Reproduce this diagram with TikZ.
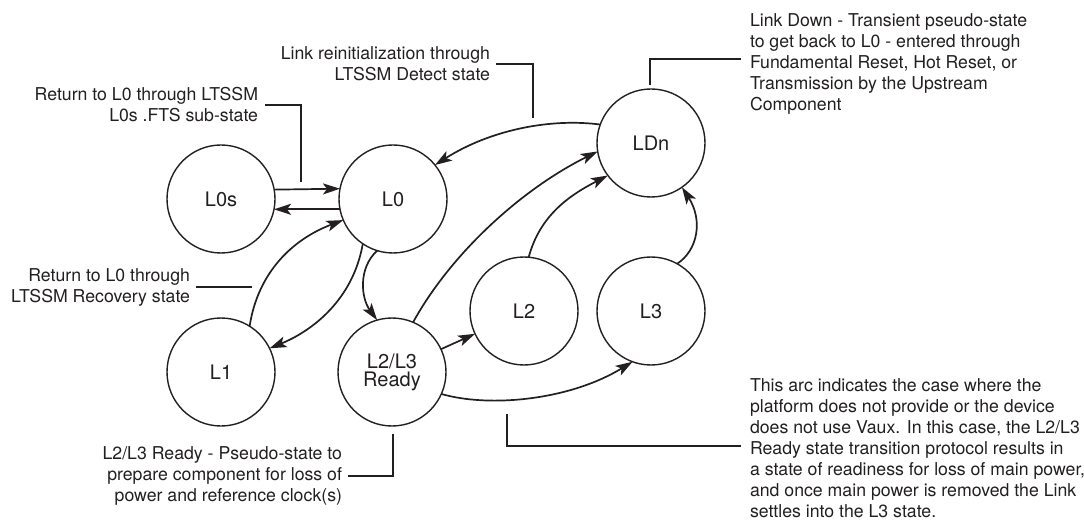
\documentclass[tikz,border=0pt]{standalone}
\usepackage{fontspec}
\setmainfont{TeX Gyre Heros}
\usetikzlibrary{arrows.meta}
\definecolor{ink}{HTML}{231F20}
\tikzset{
  x=1pt,y=-1pt,
  every node/.style={text=ink},
  statenode/.style={circle,draw=ink,line width=1.4pt,minimum size=108pt,inner sep=0pt,outer sep=0pt,align=center,font=\fontsize{20}{18}\selectfont},
  arc/.style={draw=ink,line width=1.7pt,-{Stealth[length=17pt,width=11pt,inset=4pt]}},
  leader/.style={draw=ink,line width=2pt},
  note/.style={inner sep=0pt,outer sep=0pt,font=\fontsize{17.7}{21}\selectfont},
  noter/.style={note,anchor=east,align=right},
  notel/.style={note,anchor=west,align=left}
}
\begin{document}
\begin{tikzpicture}
\useasboundingbox (0,0) rectangle (1084,521);
\node[statenode] (L0s) at (221,199) {L0s};
\node[statenode] (L0) at (393,199) {L0};
\node[statenode] (L1) at (221,372) {L1};
\node[statenode] (R) at (392,372) {L2/L3\\Ready};
\node[statenode] (L2) at (524,311) {L2};
\node[statenode] (L3) at (651,311) {L3};
\node[statenode] (LDn) at (651,143) {LDn};
% notes
\node[noter] (t0s) at (258,105) {Return to L0 through LTSSM\\L0s .FTS sub-state};
\node[noter] (tre) at (490,64) {Link reinitialization through\\LTSSM Detect state};
\node[noter] (tl1) at (190,287) {Return to L0 through\\LTSSM Recovery state};
\node[noter] (trd) at (342,476) {L2/L3 Ready - Pseudo-state to\\prepare component for loss of\\power and reference clock(s)};
\node[notel] (tdn) at (750,63.5) {Link Down - Transient pseudo-state\\to get back to L0 - entered through\\Fundamental Reset, Hot Reset, or\\Transmission by the Upstream\\Component};
\node[notel] (tarc) at (750,448.5) {This arc indicates the case where the\\platform does not provide or the device\\does not use Vaux. In this case, the L2/L3\\Ready state transition protocol results in\\a state of readiness for loss of main power,\\and once main power is removed the Link\\settles into the L3 state.};
% leader ends
\coordinate (e0s) at (301,182);
\coordinate (ere) at (533,118);
\coordinate (el1) at (252,287);
\coordinate (erd) at (393,434);
\coordinate (edn) at (650,85);
\coordinate (earc) at (507,414);
\draw[leader] ([xshift=7pt]t0s.east) -- (t0s.east -| e0s) -- (e0s);
\draw[leader] ([xshift=6pt]tre.east) -- (tre.east -| ere) -- (ere);
\draw[leader] ([xshift=6pt]tl1.east) -- (el1);
\draw[leader] ([xshift=6pt]trd.east) -- (trd.east -| erd) -- (erd);
\draw[leader] ([xshift=-9pt,yshift=4pt]tdn.west) -- ([yshift=4pt]tdn.west -| edn) -- (edn);
\draw[leader] ([xshift=-9pt,yshift=3pt]tarc.west) -- ([yshift=3pt]tarc.west -| earc) -- (earc);
% arcs
\draw[arc] (L0s.10.6) -- (L0.169);
\draw[arc] (L0.191) -- (L0s.349);
\draw[arc] (L1.58.7) .. controls (258,272) and (293,239) .. (L0.203.5);
\draw[arc] (L0.236.6) .. controls (353,300) and (312,331) .. (L1.26);
\draw[arc] (L0.253.5) .. controls (358,268) and (361,298) .. (R.106.8);
\draw[arc] (R.67.2) .. controls (450,255) and (520,190) .. (LDn.189);
\draw[arc] (LDn.160) .. controls (550,118) and (490,130) .. (L0.39.3);
\draw[arc] (L2.85.8) .. controls (540,215) and (570,195) .. (LDn.217);
\draw[arc] (L3.61.6) .. controls (698,250) and (703,220) .. (LDn.305);
\draw[arc] (R.25.6) -- (L2.205);
\draw[arc] (R.336.7) .. controls (490,408) and (570,400) .. (L3.250);
\end{tikzpicture}
\end{document}
